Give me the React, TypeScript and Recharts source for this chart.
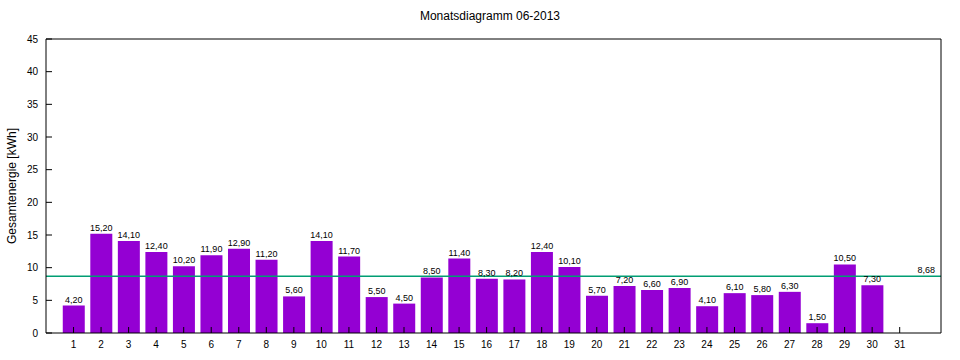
import React from 'react';
import { ComposedChart, Bar, XAxis, YAxis, ReferenceLine, LabelList } from 'recharts';

const days = [1,2,3,4,5,6,7,8,9,10,11,12,13,14,15,16,17,18,19,20,21,22,23,24,25,26,27,28,29,30,31];
const energy: (number | null)[] = [4.2,15.2,14.1,12.4,10.2,11.9,12.9,11.2,5.6,14.1,11.7,5.5,4.5,8.5,11.4,8.3,8.2,12.4,10.1,5.7,7.2,6.6,6.9,4.1,6.1,5.8,6.3,1.5,10.5,7.3,null];
const average = 8.68;
const yTicks = [0,5,10,15,20,25,30,35,40,45];
const title = 'Monatsdiagramm 06-2013';
const yLabel = 'Gesamtenergie [kWh]';

const data = days.map((d, i) => ({ day: d, value: energy[i] }));
const fmt = (v: number) => v.toFixed(2).replace('.', ',');
const FONT = '"Liberation Sans", Arial, sans-serif';

const YLabel = (props: any) => {
  const vb = props.viewBox || {};
  const cy = vb.y + vb.height / 2;
  return (
    <text x={16} y={cy} transform={`rotate(-90, 16, ${cy})`} textAnchor="middle" fontSize={12} fontFamily={FONT} fill="#000">
      {yLabel}
    </text>
  );
};

const AvgLabel = (props: any) => {
  const vb = props.viewBox || {};
  return (
    <text x={vb.x + vb.width - 6} y={vb.y - 3} textAnchor="end" fontSize={9} fontFamily={FONT} fill="#000">
      {fmt(average)}
    </text>
  );
};

export default function App() {
  return (
    <div style={{ position: 'absolute', left: 0, top: 0, width: 960, height: 360, background: '#fff' }}>
      <div style={{ position: 'absolute', left: 0, width: 980, top: 9, textAlign: 'center', fontFamily: FONT, fontSize: 12, color: '#000', lineHeight: '14px' }}>
        {title}
      </div>
      <ComposedChart width={960} height={360} data={data} margin={{ top: 38, right: 18, bottom: 0, left: 0 }}>
        <XAxis
          xAxisId="bottom"
          dataKey="day"
          type="number"
          domain={[0, 32.5]}
          allowDataOverflow
          ticks={days}
          interval={0}
          orientation="bottom"
          height={27}
          tickSize={-6}
          tickMargin={14}
          axisLine={{ stroke: '#000', strokeWidth: 1 }}
          tickLine={{ stroke: '#000' }}
          tick={{ fontSize: 10, fontFamily: FONT, fill: '#000' }}
        />
        <XAxis
          xAxisId="top"
          dataKey="day"
          type="number"
          domain={[0, 32.5]}
          allowDataOverflow
          ticks={days}
          interval={0}
          orientation="top"
          height={1}
          tickSize={-6}
          tick={false}
          axisLine={{ stroke: '#000', strokeWidth: 1 }}
          tickLine={{ stroke: '#000' }}
        />
        <YAxis
          yAxisId="left"
          type="number"
          domain={[0, 45]}
          allowDataOverflow
          ticks={yTicks}
          interval={0}
          width={46}
          tickSize={-6}
          tickMargin={14}
          axisLine={{ stroke: '#000', strokeWidth: 1 }}
          tickLine={{ stroke: '#000' }}
          tick={{ fontSize: 10, fontFamily: FONT, fill: '#000' }}
          label={<YLabel />}
        />
        <YAxis
          yAxisId="right"
          orientation="right"
          type="number"
          domain={[0, 45]}
          allowDataOverflow
          ticks={yTicks}
          interval={0}
          width={1}
          tickSize={-6}
          tick={false}
          axisLine={{ stroke: '#000', strokeWidth: 1 }}
          tickLine={{ stroke: '#000' }}
        />
        <Bar xAxisId="bottom" yAxisId="left" dataKey="value" fill="#9400d3" barSize={22} isAnimationActive={false}>
          <LabelList
            dataKey="value"
            position="top"
            offset={3}
            formatter={(v: any) => (v == null ? '' : fmt(Number(v)))}
            style={{ fontSize: 9, fontFamily: FONT, fill: '#000' }}
          />
        </Bar>
        <ReferenceLine
          xAxisId="bottom"
          yAxisId="left"
          y={average}
          stroke="#009e73"
          strokeWidth={1.5}
          ifOverflow="extendDomain"
          label={<AvgLabel />}
        />
      </ComposedChart>
    </div>
  );
}
